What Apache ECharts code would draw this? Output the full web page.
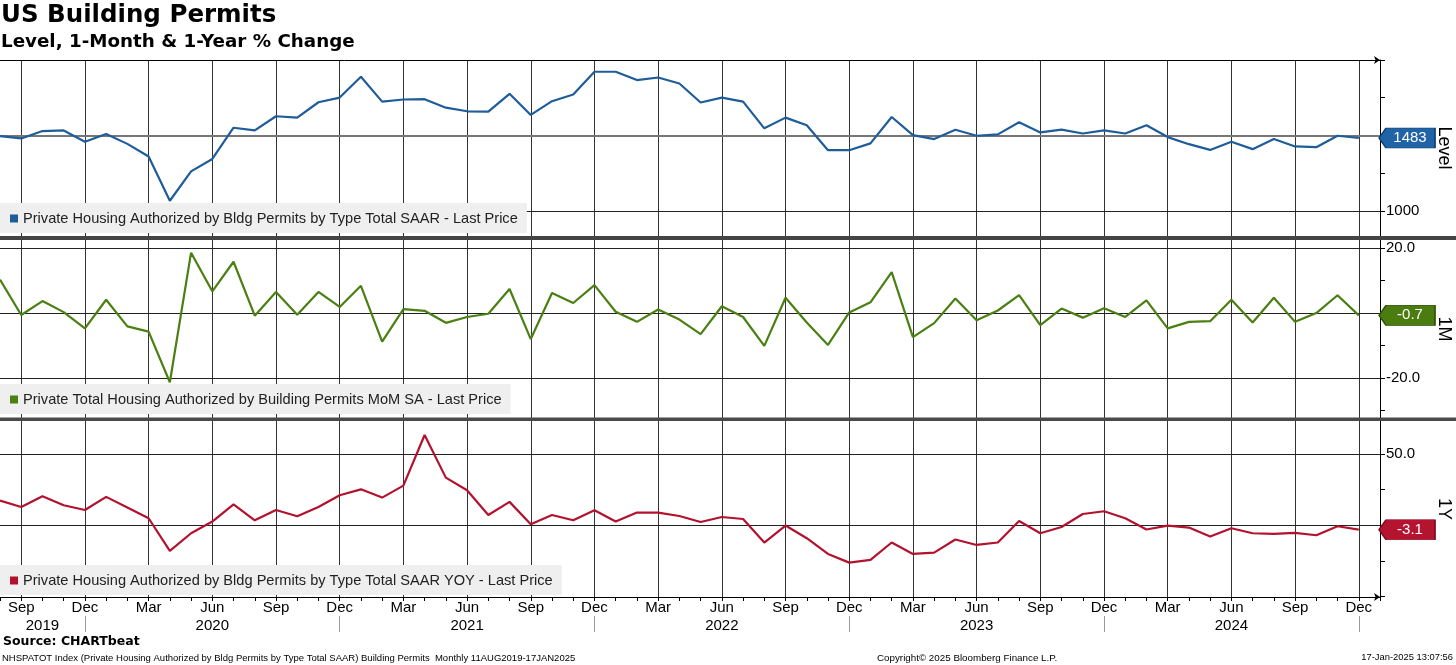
<!DOCTYPE html>
<html><head><meta charset="utf-8">
<script src="https://cdn.jsdelivr.net/npm/echarts@6/dist/echarts.min.js"></script>
<style>html,body{margin:0;padding:0;background:#fff}#c{width:1456px;height:665px}</style>
</head><body><div id="c"></div>
<script>
const categories = ['2019-08','2019-09','2019-10','2019-11','2019-12',
'2020-01','2020-02','2020-03','2020-04','2020-05','2020-06','2020-07','2020-08','2020-09','2020-10','2020-11','2020-12',
'2021-01','2021-02','2021-03','2021-04','2021-05','2021-06','2021-07','2021-08','2021-09','2021-10','2021-11','2021-12',
'2022-01','2022-02','2022-03','2022-04','2022-05','2022-06','2022-07','2022-08','2022-09','2022-10','2022-11','2022-12',
'2023-01','2023-02','2023-03','2023-04','2023-05','2023-06','2023-07','2023-08','2023-09','2023-10','2023-11','2023-12',
'2024-01','2024-02','2024-03','2024-04','2024-05','2024-06','2024-07','2024-08','2024-09','2024-10','2024-11','2024-12',
'2025-01'];
const monthNames = ['Jan','Feb','Mar','Apr','May','Jun','Jul','Aug','Sep','Oct','Nov','Dec'];
const quarterMonths = [3,6,9,12];
const yearLabelAt = ['2019-10','2020-06','2021-06','2022-06','2023-06','2024-06'];
const yearSeparatorMonth = 12;

const levelValues = [1496,1480,1529,1533,1458,1509,1444,1360,1067,1262,1344,1551,1533,1627,1618,1720,1751,1889,1724,1738,1740,1684,1660,1658,1776,1636,1727,1771,1922,1922,1867,1884,1844,1718,1751,1724,1547,1618,1567,1402,1402,1447,1622,1502,1476,1538,1498,1507,1587,1520,1538,1513,1533,1513,1567,1489,1442,1404,1458,1409,1476,1427,1422,1498,1483];
const momValues = [10.3,-0.6,3.7,0.3,-4.7,4.1,-4.1,-5.7,-21.3,18.6,6.7,15.8,-0.8,6.5,-0.5,6.5,1.9,8.4,-8.8,1.2,0.7,-3.0,-1.2,-0.2,7.4,-8.0,6.2,3.1,8.6,0.4,-2.7,1.1,-2.0,-6.5,2.1,-1.2,-10.1,4.7,-2.9,-9.8,0.2,3.3,12.6,-7.4,-3.1,4.5,-2.2,0.8,5.5,-3.7,1.4,-1.4,1.5,-1.2,3.9,-4.7,-2.7,-2.5,4.1,-2.9,4.7,-2.7,0.0,5.5,-0.7];
const yoyValues = [17.3,12.8,20.3,14.0,10.7,19.9,12.4,4.9,-18.0,-5.6,2.6,14.7,3.5,10.7,6.3,12.8,21.0,25.2,19.4,27.8,63.3,33.4,24.5,7.2,16.4,0.7,7.2,3.5,10.5,2.6,8.9,8.9,6.5,2.3,5.8,4.4,-12.1,-0.2,-9.1,-20.1,-26.2,-24.3,-12.1,-20.1,-19.2,-10.0,-13.8,-12.1,3.0,-5.6,-1.2,7.9,9.8,4.9,-3.0,-0.2,-1.6,-7.9,-2.1,-5.6,-6.1,-5.4,-7.0,-0.7,-3.1];

const levelTicks = [1000,1250,1500,1750,2000];
const levelLabels = [1000];
const levelGridLines = [1000,1500];
const momTicks = [20,10,0,-10,-20,-30];
const momLabels = [20,-20];
const momGridLines = [20,0,-20];
const yoyTicks = [50,25,0,-25,-50];
const yoyLabels = [50];
const yoyGridLines = [50,0];

const seriesNames = [
  'Private Housing Authorized by Bldg Permits by Type Total SAAR - Last Price',
  'Private Total Housing Authorized by Building Permits MoM SA - Last Price',
  'Private Housing Authorized by Bldg Permits by Type Total SAAR YOY - Last Price'
];
const axisNames = ['Level','1M','1Y'];

const FONT = 'Liberation Sans, Arial, sans-serif';
const colors = ['#1f5c9a','#4a7f12','#b3122e'];
const tagColors = ['#2063a6','#4b7c10','#b51431'];
const tagBorders = ['#0f3d6c','#2e5208','#7d0a1e'];

const month = c => parseInt(c.slice(5), 10);
const isQuarter = (i, c) => quarterMonths.indexOf(month(c)) >= 0;

const W = 1456, gridRight = 76, gridW = W - gridRight;
const lastIdx = levelValues.length - 1;
const lastX = lastIdx * gridW / (categories.length - 1);
const tagW = 56, tagH = 20;
const tagOffset = (gridW - 1 + tagW / 2) - lastX;
const tagPath = 'path://M0,10 L7,0 L56,0 L56,20 L7,20 Z';

const grids = [
  {left:0, right:gridRight, top:60, height:176, outerBoundsMode:'none', containLabel:false},
  {left:0, right:gridRight, top:240, height:178, outerBoundsMode:'none', containLabel:false},
  {left:0, right:gridRight, top:421, height:176, outerBoundsMode:'none', containLabel:false}
];
const ranges = [[833.3,2000],[-32.3,22.5],[-50.3,73.1]];
const ticks = [levelTicks, momTicks, yoyTicks];
const labels = [levelLabels, momLabels, yoyLabels];
const gridLines = [levelGridLines, momGridLines, yoyGridLines];
const values = [levelValues, momValues, yoyValues];
const fmt = [v => String(v), v => v.toFixed(1), v => v.toFixed(1)];

const splitLine = {show:true, interval:isQuarter, lineStyle:{color:'#333', width:1}};

const xAxis = [
  {gridIndex:0, type:'category', data:categories, boundaryGap:false, position:'top',
   axisLine:{show:true, onZero:false, lineStyle:{color:'#000'}, symbol:['none','arrow'], symbolSize:[6,6]},
   axisTick:{show:false}, axisLabel:{show:false}, splitLine},
  {gridIndex:1, type:'category', data:categories, boundaryGap:false,
   axisLine:{show:false, onZero:false}, axisTick:{show:false}, axisLabel:{show:false}, splitLine},
  {gridIndex:2, type:'category', data:categories, boundaryGap:false, position:'bottom',
   axisLine:{show:true, onZero:false, lineStyle:{color:'#000'}, symbol:['none','arrow'], symbolSize:[6,6]},
   axisTick:{show:true, interval:0, length:4, lineStyle:{color:'#000'}},
   axisLabel:{show:true, interval:isQuarter, margin:3, fontFamily:FONT, fontSize:15, color:'#000',
     formatter: c => monthNames[month(c)-1]},
   splitLine},
  {gridIndex:2, type:'category', data:categories, boundaryGap:false, position:'bottom', offset:19,
   axisLine:{show:false, onZero:false},
   axisTick:{show:true, interval:(i,c) => month(c) === yearSeparatorMonth, length:16, lineStyle:{color:'#999'}},
   axisLabel:{show:true, interval:(i,c) => yearLabelAt.indexOf(c) >= 0, margin:2, fontFamily:FONT, fontSize:15, color:'#000',
     formatter: c => c.slice(0,4)},
   splitLine:{show:false}}
];

const yAxis = [0,1,2].map(k => ({
  gridIndex:k, type:'value', position:'right', min:ranges[k][0], max:ranges[k][1],
  axisLine:{show:true, onZero:false, lineStyle:{color:'#000'}},
  axisTick:{show:true, customValues:ticks[k], length:5, lineStyle:{color:'#000'}},
  axisLabel:{show:true, customValues:labels[k], formatter:fmt[k], margin:6, fontFamily:FONT, fontSize:15, color:'#000'},
  splitLine:{show:false},
  name:axisNames[k], nameLocation:'middle', nameRotate:-90, nameGap:55,
  nameTextStyle:{fontFamily:FONT, fontSize:18, color:'#000'}
}));

const series = [0,1,2].map(k => ({
  name:seriesNames[k], type:'line', xAxisIndex:k, yAxisIndex:k,
  data:values[k], showSymbol:false, symbol:'none', clip:false,
  lineStyle:{color:colors[k], width:2.2}, itemStyle:{color:colors[k]},
  z:3,
  markLine:{silent:true, symbol:'none', z:1, animation:false,
    label:{show:false},
    lineStyle:{color:'#222', width:1, type:'solid'},
    emphasis:{disabled:true},
    data:gridLines[k].map(v => (k === 0 && v === 1500)
      ? {yAxis:v, lineStyle:{color:'#777', width:2, type:'solid'}}
      : {yAxis:v})},
  markPoint:{silent:true, symbol:tagPath, symbolSize:[tagW,tagH], symbolOffset:[tagOffset,0],
    itemStyle:{color:tagColors[k], borderColor:tagBorders[k], borderWidth:1},
    label:{show:true, color:'#fff', fontFamily:FONT, fontSize:15, offset:[3,0],
      formatter: p => fmt[k](p.value)},
    data:[{coord:[categories[lastIdx], values[k][lastIdx]], value:values[k][lastIdx]}]}
}));

const legendTops = [203, 384, 565];
const legend = [0,1,2].map(k => ({
  data:[seriesNames[k]], left:0, top:legendTops[k], orient:'horizontal',
  backgroundColor:'#efefef', padding:[8,9,7,10], itemWidth:8, itemHeight:8, icon:'rect',
  selectedMode:false, textStyle:{fontFamily:FONT, fontSize:14.6, color:'#222'}
}));

const title = [
  {text:'US Building Permits', left:1, top:3, padding:0,
   textStyle:{fontFamily:'DejaVu Sans', fontWeight:'bold', fontSize:24.5, color:'#000'}},
  {text:'Level, 1-Month & 1-Year % Change', left:1, top:33, padding:0,
   textStyle:{fontFamily:'DejaVu Sans', fontWeight:'bold', fontSize:18.3, color:'#000'}},
  {text:'Source: CHARTbeat', left:3, top:635, padding:0,
   textStyle:{fontFamily:'DejaVu Sans', fontWeight:'bold', fontSize:12.5, color:'#000'}},
  {text:'NHSPATOT Index (Private Housing Authorized by Bldg Permits by Type Total SAAR) Building Permits  Monthly 11AUG2019-17JAN2025', left:2, top:653, padding:0,
   textStyle:{fontFamily:FONT, fontWeight:'normal', fontSize:9.5, color:'#000'}},
  {text:'Copyright\u00a9 2025 Bloomberg Finance L.P.', left:877, top:653, padding:0,
   textStyle:{fontFamily:FONT, fontWeight:'normal', fontSize:9.8, color:'#000'}},
  {text:'17-Jan-2025 13:07:56', right:3, top:653, padding:0,
   textStyle:{fontFamily:FONT, fontWeight:'normal', fontSize:9.4, color:'#000'}}
];

const chart = echarts.init(document.getElementById('c'), null, {renderer:'canvas'});
chart.setOption({
  animation:false, backgroundColor:'#fff',
  title, legend, grid:grids, xAxis, yAxis, series,
  graphic:[
    {type:'rect', z:100, shape:{x:0, y:236, width:W, height:4}, style:{fill:'#444'}},
    {type:'rect', z:100, shape:{x:0, y:417.5, width:W, height:3.5}, style:{fill:'#4a4a4a'}}
  ]
});
</script></body></html>
